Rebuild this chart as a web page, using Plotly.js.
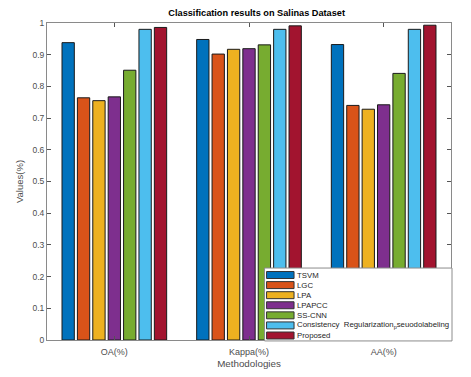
<!DOCTYPE html>
<html><head><meta charset="utf-8">
<script src="https://cdn.plot.ly/plotly-3.0.1.min.js"></script>
<style>html,body{margin:0;padding:0;background:#fff}#c{width:471px;height:377px}</style>
</head><body><div id="c"></div>
<script>
const categories = ["OA(%)", "Kappa(%)", "AA(%)"];
const methods = ["TSVM", "LGC", "LPA", "LPAPCC", "SS-CNN",
  "Consistency  Regularization<sub>p</sub>seuodolabeling", "Proposed"];
const TSVM = [0.938, 0.948, 0.932];
const LGC = [0.764, 0.902, 0.740];
const LPA = [0.755, 0.917, 0.728];
const LPAPCC = [0.767, 0.919, 0.742];
const SSCNN = [0.851, 0.931, 0.841];
const Consistency = [0.980, 0.980, 0.980];
const Proposed = [0.986, 0.991, 0.993];
const yTicks = [0, 0.1, 0.2, 0.3, 0.4, 0.5, 0.6, 0.7, 0.8, 0.9, 1];
const yTickText = ["0", "0.1", "0.2", "0.3", "0.4", "0.5", "0.6", "0.7", "0.8", "0.9", "1"];
const colors = ["#0072BD", "#D95319", "#EDB120", "#7E2F8E", "#77AC30", "#4DBEEE", "#A2142F"];
const series = [TSVM, LGC, LPA, LPAPCC, SSCNN, Consistency, Proposed];

const traces = series.map((vals, i) => ({
  type: "bar", x: categories, y: vals, name: methods[i],
  marker: {color: colors[i], line: {color: "#1a1a1a", width: 1}},
  showlegend: false, hoverinfo: "skip"
}));

// custom MATLAB-style legend
const L = {x0: 0.5385, x1: 1.0025, y0: -0.003, y1: 0.227};
const shapes = [{type: "rect", xref: "paper", yref: "paper", x0: L.x0, x1: L.x1, y0: L.y0, y1: L.y1,
  fillcolor: "#ffffff", line: {color: "#8c8c8c", width: 1}, layer: "above"}];
const annotations = [];
methods.forEach((m, i) => {
  const yc = 0.205 - i * 0.0318;
  shapes.push({type: "rect", xref: "paper", yref: "paper", x0: 0.5435, x1: 0.6115,
    y0: yc - 0.011, y1: yc + 0.011, fillcolor: colors[i],
    line: {color: "#333", width: 1}, layer: "above"});
  annotations.push({xref: "paper", yref: "paper", x: 0.6145, y: yc, xanchor: "left", yanchor: "middle",
    text: m, showarrow: false, font: {family: "Liberation Sans, Arial", size: 7.8, color: "#262626"}});
});

const layout = {
  width: 471, height: 377,
  margin: {l: 47, r: 20, t: 23, b: 37},
  paper_bgcolor: "#fff", plot_bgcolor: "#fff",
  title: {text: "<b>Classification results on Salinas Dataset</b>", x: 0.545, xanchor: "center", y: 0.975, yanchor: "top",
    font: {family: "Liberation Sans, Arial", size: 9.2, color: "#000"}},
  barmode: "group", bargap: 0.2, bargroupgap: 0.2,
  xaxis: {
    range: [-0.5, 2.5], showgrid: false, zeroline: false,
    showline: true, mirror: "ticks", linecolor: "#8a8a8a", linewidth: 1,
    ticks: "inside", ticklen: 4, tickcolor: "#555", ticklabelstandoff: 3,
    tickfont: {family: "Liberation Sans, Arial", size: 9, color: "#4d4d4d"},
    title: {text: "Methodologies", standoff: 4, font: {family: "Liberation Sans, Arial", size: 9.8, color: "#4d4d4d"}}
  },
  yaxis: {
    range: [0, 1], showgrid: false, zeroline: false,
    showline: true, mirror: "ticks", linecolor: "#8a8a8a", linewidth: 1,
    ticks: "inside", ticklen: 4, tickcolor: "#555",
    tickvals: yTicks, ticktext: yTickText,
    tickfont: {family: "Liberation Sans, Arial", size: 8.5, color: "#4d4d4d"},
    title: {text: "Values(%)", standoff: 7, font: {family: "Liberation Sans, Arial", size: 9.5, color: "#4d4d4d"}}
  },
  shapes: shapes, annotations: annotations
};
Plotly.newPlot("c", traces, layout, {displayModeBar: false, staticPlot: true});
</script></body></html>
